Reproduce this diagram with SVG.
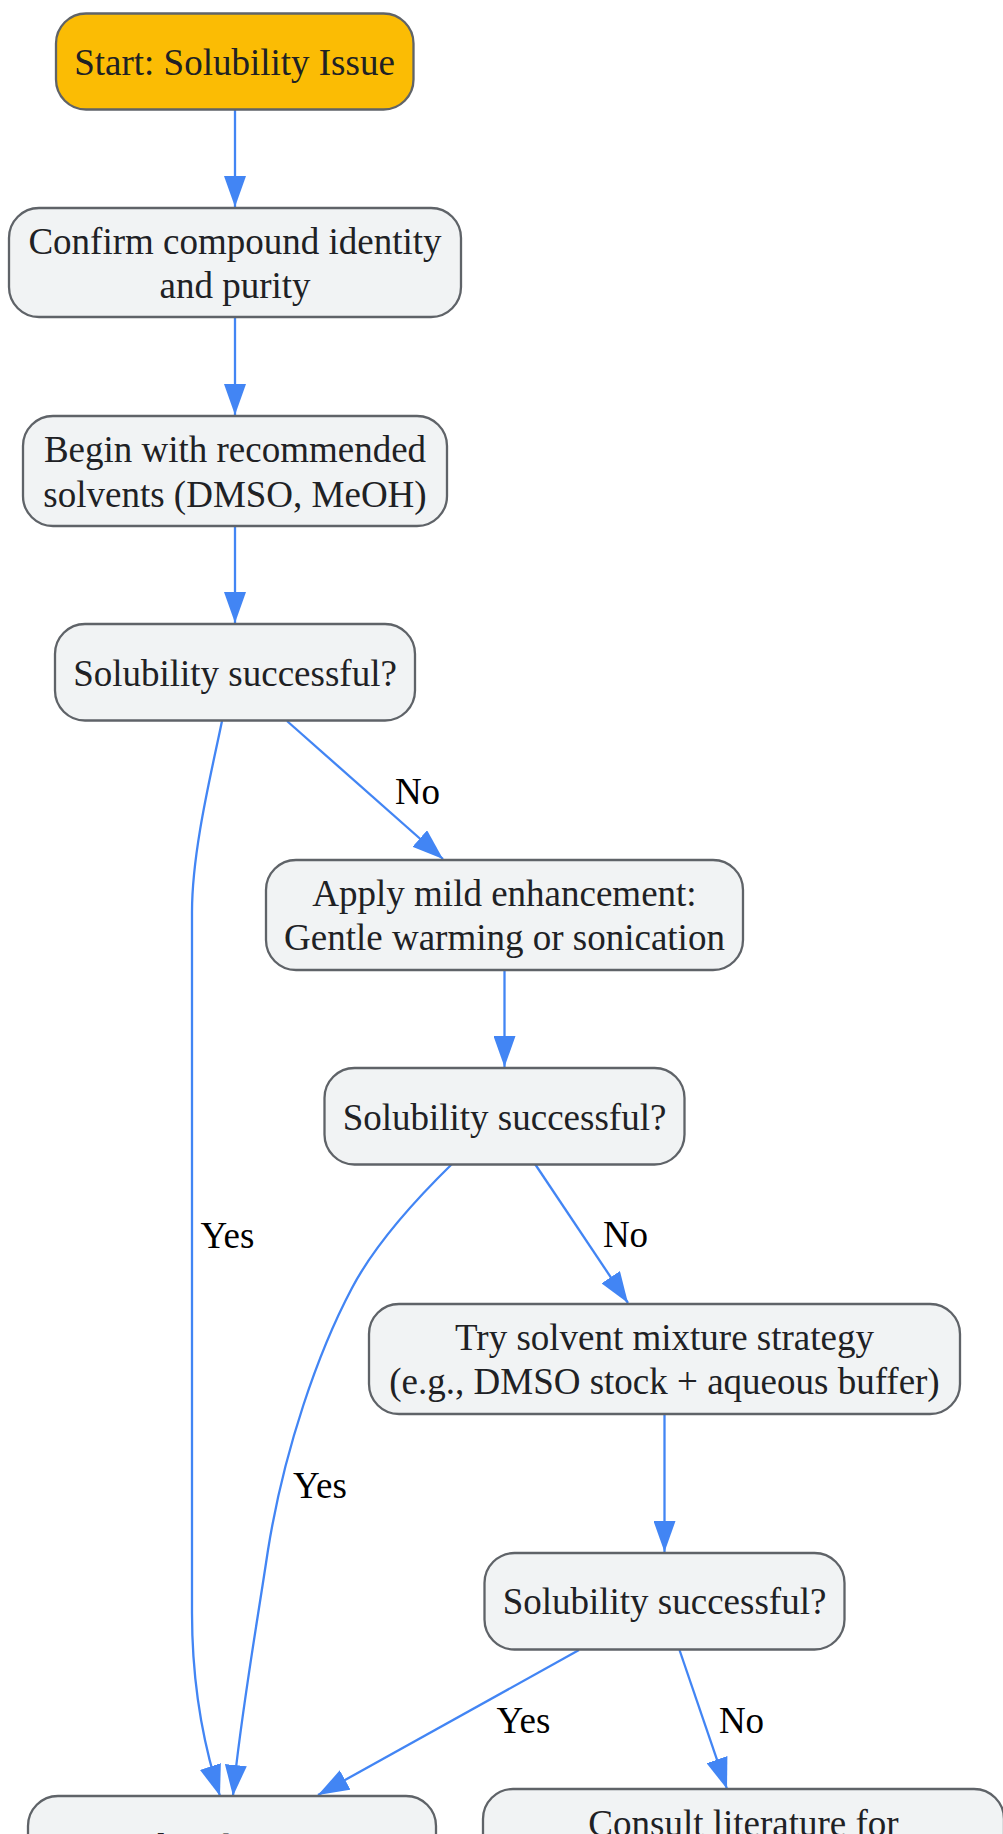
<svg xmlns="http://www.w3.org/2000/svg" width="1003" height="1834" viewBox="0 0 1003 1834">
<style>
.node rect{fill:#F1F3F4;stroke:#5F6368;stroke-width:2.3}
.node.start rect{fill:#FBBC04}
.node text{font-family:"Liberation Serif","Times New Roman",serif;font-size:37px;fill:#202124;text-anchor:middle}
.edge{fill:none;stroke:#4285F4;stroke-width:2.3}
.lbl{font-family:"Liberation Serif","Times New Roman",serif;font-size:37px;fill:#000;text-anchor:middle}
</style>
<defs>
<marker id="arr" viewBox="0 0 10 10" refX="10" refY="5" markerUnits="userSpaceOnUse" markerWidth="31" markerHeight="22" orient="auto" preserveAspectRatio="none">
<path d="M0,0 L10,5 L0,10 z" fill="#4285F4"/>
</marker>
</defs>
<rect width="1003" height="1834" fill="#fff"/>
<g id="connectors">
<path class="edge" d="M235,109 L235,207" marker-end="url(#arr)"/>
<path class="edge" d="M235,317 L235,415" marker-end="url(#arr)"/>
<path class="edge" d="M235,526 L235,623" marker-end="url(#arr)"/>
<path class="edge" d="M287,721 L443,859" marker-end="url(#arr)"/>
<path class="edge" d="M222,721 C212,770 192,850 192,912 L192,1613 C192,1690 205,1750 220,1796" marker-end="url(#arr)"/>
<path class="edge" d="M504.5,970 L504.5,1067" marker-end="url(#arr)"/>
<path class="edge" d="M535,1164 L628,1303" marker-end="url(#arr)"/>
<path class="edge" d="M452,1164 C405,1210 372,1250 352,1288 C318,1352 284,1450 268,1550 C256,1630 240,1720 233,1796" marker-end="url(#arr)"/>
<path class="edge" d="M664.5,1414 L664.5,1552" marker-end="url(#arr)"/>
<path class="edge" d="M579,1650 L318,1795" marker-end="url(#arr)"/>
<path class="edge" d="M679.5,1650 L727,1789" marker-end="url(#arr)"/>
<text class="lbl" x="417.5" y="804">No</text>
<text class="lbl" x="227.5" y="1248">Yes</text>
<text class="lbl" x="625.5" y="1247">No</text>
<text class="lbl" x="320" y="1498">Yes</text>
<text class="lbl" x="523.5" y="1733">Yes</text>
<text class="lbl" x="741.5" y="1733">No</text>
</g>
<g id="start" class="node start">
<rect x="56" y="13.5" width="357.5" height="96" rx="30" ry="30"/>
<text x="234.5" y="75">Start: Solubility Issue</text>
</g>
<g id="confirm" class="node">
<rect x="9" y="208" width="452" height="109" rx="30" ry="30"/>
<text x="235" y="254">Confirm compound identity</text>
<text x="235" y="298">and purity</text>
</g>
<g id="begin" class="node">
<rect x="23" y="416" width="424" height="110" rx="30" ry="30"/>
<text x="235" y="462">Begin with recommended</text>
<text x="235" y="507">solvents (DMSO, MeOH)</text>
</g>
<g id="check1" class="node">
<rect x="55" y="624" width="360" height="96.5" rx="30" ry="30"/>
<text x="235" y="686">Solubility successful?</text>
</g>
<g id="enhance" class="node">
<rect x="266" y="860" width="477" height="110" rx="30" ry="30"/>
<text x="504.5" y="906">Apply mild enhancement:</text>
<text x="504.5" y="950">Gentle warming or sonication</text>
</g>
<g id="check2" class="node">
<rect x="324.5" y="1068" width="360" height="96.5" rx="30" ry="30"/>
<text x="504.5" y="1130">Solubility successful?</text>
</g>
<g id="mixture" class="node">
<rect x="369" y="1304" width="591" height="110" rx="30" ry="30"/>
<text x="664.5" y="1350">Try solvent mixture strategy</text>
<text x="664.5" y="1394">(e.g., DMSO stock + aqueous buffer)</text>
</g>
<g id="check3" class="node">
<rect x="484.5" y="1553" width="360" height="96.5" rx="30" ry="30"/>
<text x="664.5" y="1614">Solubility successful?</text>
</g>
<g id="proceed" class="node">
<rect x="28" y="1796" width="408" height="96" rx="30" ry="30"/>
<text x="232" y="1860">Proceed with experiment</text>
</g>
<g id="consult" class="node">
<rect x="483" y="1789" width="521" height="110" rx="30" ry="30"/>
<text x="743.5" y="1836">Consult literature for</text>
</g>
</svg>
